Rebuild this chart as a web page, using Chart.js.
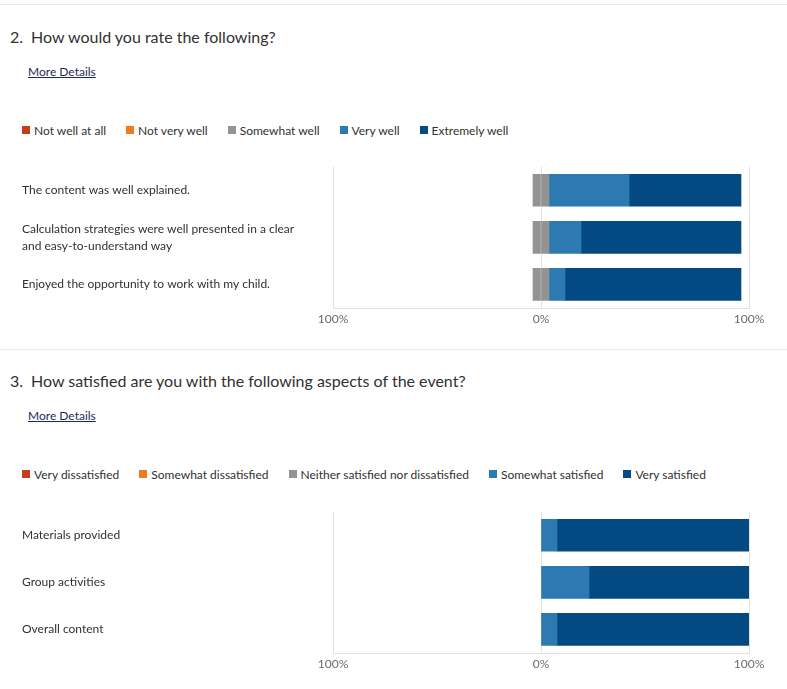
<!DOCTYPE html>
<html>
<head>
<meta charset="utf-8">
<script src="https://cdn.jsdelivr.net/npm/chart.js@4.4.0/dist/chart.umd.min.js"></script>
<style>
  body { margin: 0; width: 787px; height: 689px; background: #fff; overflow: hidden; position: relative;
         font-family: Lato, "Noto Sans", sans-serif; color: #323130; }
  .linha { position: absolute; left: 0; width: 787px; height: 1px; background: #ebebeb; }
  .titulo { position: absolute; left: 10px; font-size: 16px; line-height: 20px; white-space: nowrap; }
  .titulo .num { display: inline-block; width: 21px; }
  .detalhes { position: absolute; left: 28px; font-size: 12px; line-height: 16px; color: #1f2a5c; text-decoration: underline; }
  .legenda { position: absolute; left: 22px; height: 16px; display: flex; align-items: center; font-size: 12px; white-space: nowrap; }
  .legenda .item { display: flex; align-items: center; margin-right: 20px; }
  .legenda .cor { width: 8px; height: 8px; margin-right: 4px; }
  .caixa { position: absolute; left: 22px; width: 765px; height: 175px; }
</style>
</head>
<body>
<div class="linha" style="top:4px"></div>
<div class="titulo" style="top:27px"><span class="num">2.</span>How would you rate the following?</div>
<div class="detalhes" style="top:64px">More Details</div>
<div class="legenda" id="legenda-q2" style="top:122px"></div>
<div class="caixa" style="top:155px"><canvas id="grafico-q2"></canvas></div>

<div class="linha" style="top:349px"></div>
<div class="titulo" style="top:371px"><span class="num">3.</span>How satisfied are you with the following aspects of the event?</div>
<div class="detalhes" style="top:408px">More Details</div>
<div class="legenda" id="legenda-q3" style="top:466px"></div>
<div class="caixa" style="top:500px"><canvas id="grafico-q3"></canvas></div>

<script>
// Cores da escala (negativo -> positivo)
const cores = ['#c43e1c', '#ec7a1f', '#939393', '#2d79b1', '#034a82'];

// Pergunta 2 - valores em %
const perguntasQ2 = [
    'The content was well explained.',
    ['Calculation strategies were well presented in a clear', 'and easy-to-understand way'],
    'Enjoyed the opportunity to work with my child.'
];
const escalaQ2 = ['Not well at all', 'Not very well', 'Somewhat well', 'Very well', 'Extremely well'];
const notWellAtAll = [0, 0, 0];
const notVeryWell = [0, 0, 0];
const somewhatWell = [7.7, 7.7, 7.7];
const veryWell = [38.5, 15.4, 7.7];
const extremelyWell = [53.8, 76.9, 84.6];

// Pergunta 3 - valores em %
const perguntasQ3 = ['Materials provided', 'Group activities', 'Overall content'];
const escalaQ3 = ['Very dissatisfied', 'Somewhat dissatisfied', 'Neither satisfied nor dissatisfied', 'Somewhat satisfied', 'Very satisfied'];
const veryDissatisfied = [0, 0, 0];
const somewhatDissatisfied = [0, 0, 0];
const neitherSatisfied = [0, 0, 0];
const somewhatSatisfied = [7.7, 23.1, 7.7];
const verySatisfied = [92.3, 76.9, 92.3];

const ticksX = [-100, 0, 100];

// Legenda em HTML
const montarLegenda = (id, nomes) => {
    const el = document.getElementById(id);
    nomes.forEach((nome, i) => {
        const item = document.createElement('div');
        item.className = 'item';
        item.innerHTML = `<span class="cor" style="background:${cores[i]}"></span>${nome}`;
        el.appendChild(item);
    });
};

// Zero vira null para nao desenhar barra vazia
const semZero = (arr, sinal) => arr.map(v => v === 0 ? null : sinal * v);

// Monta datasets divergentes: neutro dividido ao meio em volta do 0
const montarDatasets = (series) => {
    const [neg2, neg1, neutro, pos1, pos2] = series;
    const ds = (data, cor) => ({ data, backgroundColor: cor, barThickness: 32, borderWidth: 0 });
    return [
        ds(semZero(neutro, -0.5), cores[2]),
        ds(semZero(neutro, 0.5), cores[2]),
        ds(semZero(neg1, -1), cores[1]),
        ds(semZero(pos1, 1), cores[3]),
        ds(semZero(neg2, -1), cores[0]),
        ds(semZero(pos2, 1), cores[4])
    ];
};

const criarGrafico = (canvasId, labels, series) => {
    return new Chart(document.getElementById(canvasId), {
        type: 'bar',
        data: { labels, datasets: montarDatasets(series) },
        options: {
            indexAxis: 'y',
            responsive: true,
            maintainAspectRatio: false,
            animation: false,
            skipNull: true,
            layout: { padding: { top: 10, right: 38, left: 0, bottom: 0 } },
            plugins: { legend: { display: false }, tooltip: { enabled: false } },
            scales: {
                x: {
                    stacked: true,
                    min: -100,
                    max: 100,
                    z: 1,
                    afterBuildTicks: (scale) => { scale.ticks = ticksX.map(v => ({ value: v })); },
                    afterFit: (scale) => { scale.height = 22; },
                    grid: { color: '#e1e1e1', drawTicks: false },
                    border: { color: '#e1e1e1' },
                    ticks: {
                        padding: 4,
                        color: '#6b6b6b',
                        font: { family: 'Lato', size: 12 },
                        callback: (v) => Math.abs(v) + '%'
                    }
                },
                y: {
                    stacked: true,
                    afterFit: (scale) => { scale.width = 311; },
                    grid: { display: false },
                    border: { display: false },
                    ticks: {
                        crossAlign: 'far',
                        color: '#323130',
                        font: { family: 'Lato', size: 12, lineHeight: 1.45 }
                    }
                }
            }
        }
    });
};

montarLegenda('legenda-q2', escalaQ2);
montarLegenda('legenda-q3', escalaQ3);
criarGrafico('grafico-q2', perguntasQ2, [notWellAtAll, notVeryWell, somewhatWell, veryWell, extremelyWell]);
criarGrafico('grafico-q3', perguntasQ3, [veryDissatisfied, somewhatDissatisfied, neitherSatisfied, somewhatSatisfied, verySatisfied]);
</script>
</body>
</html>
